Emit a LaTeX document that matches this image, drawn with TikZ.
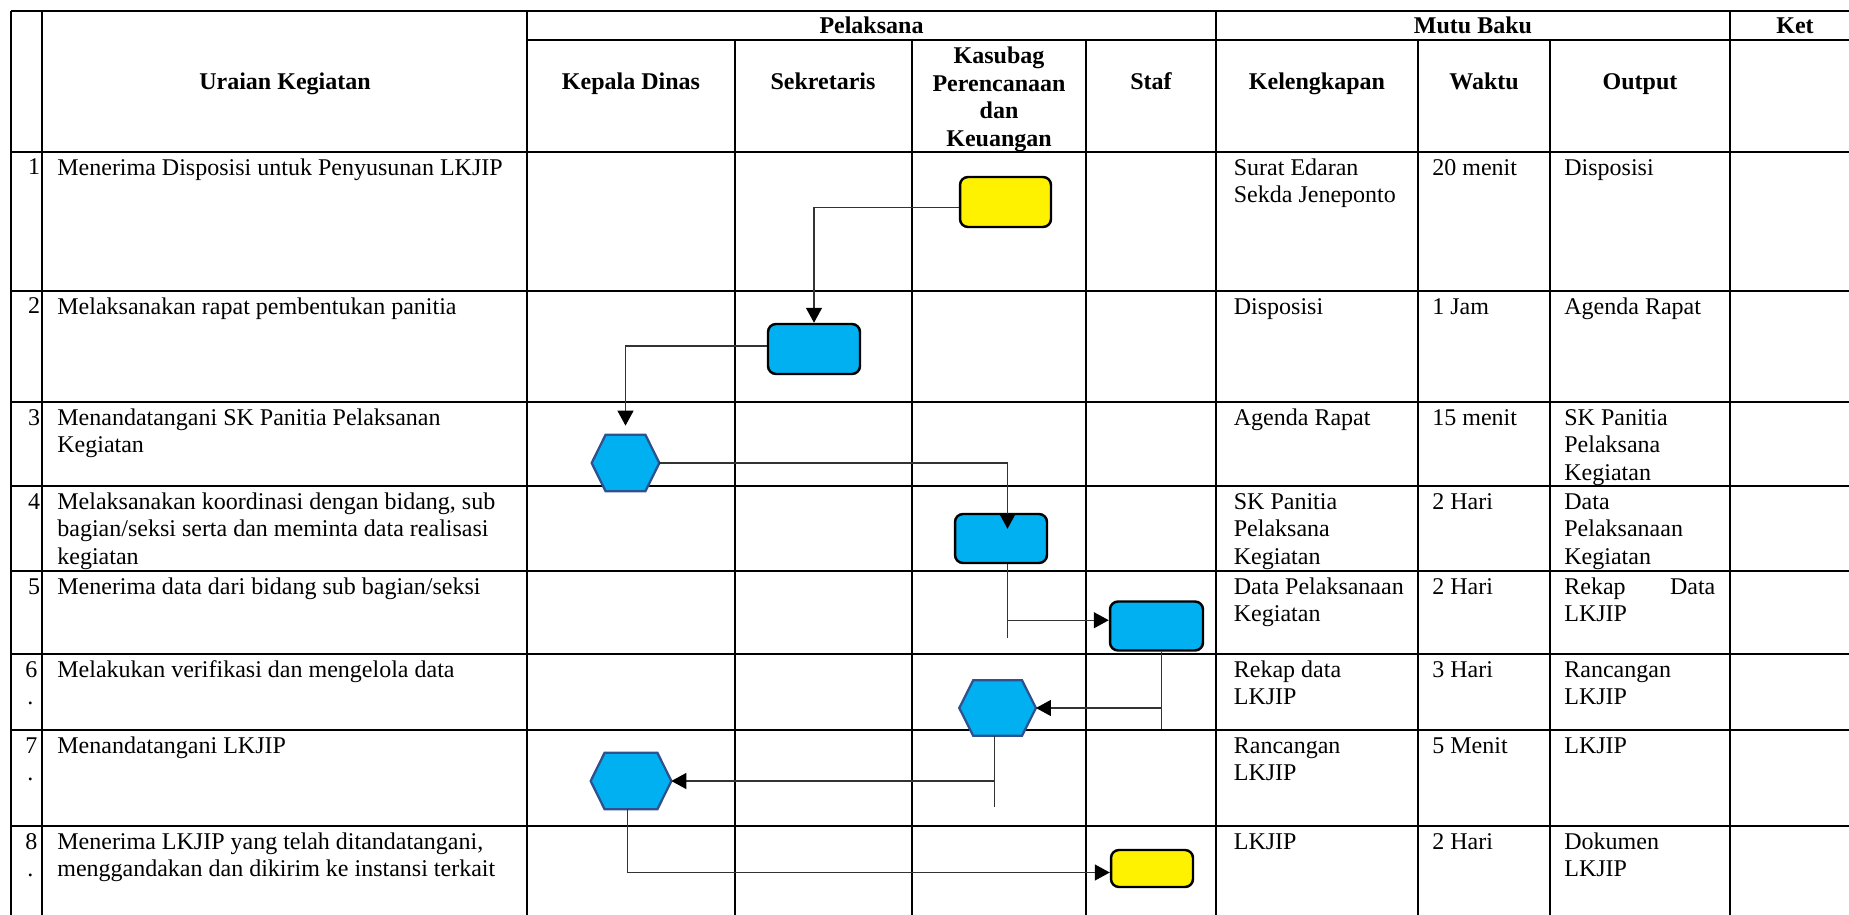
\documentclass[tikz,border=0pt]{standalone}
\usepackage{fontspec}
\setmainfont{Liberation Serif}
\usetikzlibrary{arrows.meta,calc}
\definecolor{boxblue}{HTML}{00B0F0}
\definecolor{hexedge}{HTML}{2F528F}
\definecolor{connc}{HTML}{333333}
\newcommand{\fsz}{\fontsize{13.66pt}{15.7pt}\selectfont}
\newcommand{\stt}{\rule{0pt}{0.75em}}
\newcommand{\hexdraw}[1]{\draw[hexline] (#1.west) -- ($(#1.north west)+(14,0)$) -- ($(#1.north east)+(-14,0)$) -- (#1.east) -- ($(#1.south east)+(-14,0)$) -- ($(#1.south west)+(14,0)$) -- cycle;}
\begin{document}
\begin{tikzpicture}[x=0.02cm,y=-0.02cm,
  grid/.style={line width=1.3pt, black},
  txt/.style={font=\fsz, inner sep=0pt, align=left, anchor=north west},
  hdr/.style={font=\fsz\bfseries, inner sep=0pt, align=center, anchor=base},
  hdrtop/.style={font=\fsz\bfseries, inner sep=0pt, align=center, anchor=north},
  numr/.style={font=\fsz, inner sep=0pt, anchor=base east},
  numl/.style={font=\fsz, inner sep=0pt, anchor=base west},
  flowbox/.style={draw=black, line width=1.4pt, rounded corners=0.16cm, inner sep=0pt},
  hexbox/.style={inner sep=0pt},
  hexline/.style={draw=hexedge, fill=boxblue, line width=1.3pt, line join=miter},
  conn/.style={draw=connc, line width=0.75pt},
  arr/.style={conn, -{Triangle[length=0.3cm,width=0.32cm,color=black]}},
]
\path[use as bounding box] (0,0) rectangle (1849,915);

% ---- table grid ----
\foreach \yy in {11,152,291,402,486,571,654,730,826} \draw[grid] (11,\yy) -- (1849,\yy);
\draw[grid] (527,40) -- (1849,40);
\foreach \xx in {11,42,527,1216,1730} \draw[grid] (\xx,11) -- (\xx,915);
\foreach \xx in {735,912,1086,1418,1550} \draw[grid] (\xx,40) -- (\xx,915);

% ---- headers ----
\node[hdr] (hU) at (285,89.5) {Uraian Kegiatan};
\node[hdr] (hP) at (871.5,33.3) {Pelaksana};
\node[hdr] (hM) at (1473,33.3) {Mutu Baku};
\node[hdr] (hK) at (1795,33.3) {Ket};
\node[hdr] (hKD) at (631,90) {Kepala Dinas};
\node[hdr] (hS) at (823,90) {Sekretaris};
\node[hdrtop] (hKP) at (999,45.3) {\stt Kasubag\\Perencanaan\\dan\\Keuangan};
\node[hdr] (hSt) at (1151,90) {Staf};
\node[hdr] (hKl) at (1317,90) {Kelengkapan};
\node[hdr] (hW) at (1484,90) {Waktu};
\node[hdr] (hO) at (1640,90) {Output};

% ---- row numbers ----
\node[numr] (n1) at (40.5,175) {1};
\node[numr] (n2) at (40.5,314) {2};
\node[numr] (n3) at (40.5,425) {3};
\node[numr] (n4) at (40.5,509) {4};
\node[numr] (n5) at (40.5,594) {5};
\node[numl] (n6) at (25,677) {6};
\node[numl] (n6d) at (27,704.6) {.};
\node[numl] (n7) at (25,753) {7};
\node[numl] (n7d) at (27,780.6) {.};
\node[numl] (n8) at (25,849) {8};
\node[numl] (n8d) at (27,876.6) {.};

% ---- uraian ----
\node[txt] (u1) at (57,157) {\stt Menerima Disposisi untuk Penyusunan LKJIP};
\node[txt] (u2) at (57,296) {\stt Melaksanakan rapat pembentukan panitia};
\node[txt] (u3) at (57,407) {\stt Menandatangani SK Panitia Pelaksanan\\Kegiatan};
\node[txt] (u4) at (57,491) {\stt Melaksanakan koordinasi dengan bidang, sub\\bagian/seksi serta dan meminta data realisasi\\kegiatan};
\node[txt] (u5) at (57,576) {\stt Menerima data dari bidang sub bagian/seksi};
\node[txt] (u6) at (57,659) {\stt Melakukan verifikasi dan mengelola data};
\node[txt] (u7) at (57,735) {\stt Menandatangani LKJIP};
\node[txt] (u8) at (57,831) {\stt Menerima LKJIP yang telah ditandatangani,\\menggandakan dan dikirim ke instansi terkait};

% ---- kelengkapan ----
\node[txt] (k1) at (1233.5,157) {\stt Surat Edaran\\Sekda Jeneponto};
\node[txt] (k2) at (1233.5,296) {\stt Disposisi};
\node[txt] (k3) at (1233.5,407) {\stt Agenda Rapat};
\node[txt] (k4) at (1233.5,491) {\stt SK Panitia\\Pelaksana\\Kegiatan};
\node[txt] (k5) at (1233.5,576) {\stt Data Pelaksanaan\\Kegiatan};
\node[txt] (k6) at (1233.5,659) {\stt Rekap data\\LKJIP};
\node[txt] (k7) at (1233.5,735) {\stt Rancangan\\LKJIP};
\node[txt] (k8) at (1233.5,831) {\stt LKJIP};

% ---- waktu ----
\node[txt] (w1) at (1432,157) {\stt 20 menit};
\node[txt] (w2) at (1432,296) {\stt 1 Jam};
\node[txt] (w3) at (1432,407) {\stt 15 menit};
\node[txt] (w4) at (1432,491) {\stt 2 Hari};
\node[txt] (w5) at (1432,576) {\stt 2 Hari};
\node[txt] (w6) at (1432,659) {\stt 3 Hari};
\node[txt] (w7) at (1432,735) {\stt 5 Menit};
\node[txt] (w8) at (1432,831) {\stt 2 Hari};

% ---- output ----
\node[txt] (o1) at (1564,157) {\stt Disposisi};
\node[txt] (o2) at (1564,296) {\stt Agenda Rapat};
\node[txt] (o3) at (1564,407) {\stt SK Panitia\\Pelaksana\\Kegiatan};
\node[txt] (o4) at (1564,491) {\stt Data\\Pelaksanaan\\Kegiatan};
\node[txt] (o5) at (1564,576) {\stt\makebox[3.02cm][l]{Rekap\hfill Data}\\LKJIP};
\node[txt] (o6) at (1564,659) {\stt Rancangan\\LKJIP};
\node[txt] (o7) at (1564,735) {\stt LKJIP};
\node[txt] (o8) at (1564,831) {\stt Dokumen\\LKJIP};

% ---- flow shapes ----
\node[flowbox, fill=yellow, minimum width=1.82cm, minimum height=1.0cm] (y1) at (1005.5,202) {};
\node[flowbox, fill=boxblue, minimum width=1.84cm, minimum height=1.0cm] (b2) at (814,349) {};
\node[hexbox, minimum width=1.34cm, minimum height=1.12cm] (h3) at (625.5,463) {};
\hexdraw{h3}
\node[flowbox, fill=boxblue, minimum width=1.84cm, minimum height=0.98cm] (b4) at (1001,538.5) {};
\node[flowbox, fill=boxblue, minimum width=1.86cm, minimum height=0.98cm] (b5) at (1156.5,626) {};
\node[hexbox, minimum width=1.52cm, minimum height=1.10cm] (h6) at (997.6,708) {};
\hexdraw{h6}
\node[hexbox, minimum width=1.60cm, minimum height=1.12cm] (h7) at (631,781) {};
\hexdraw{h7}
\node[flowbox, fill=yellow, minimum width=1.64cm, minimum height=0.74cm] (y8) at (1152,868.5) {};

% ---- connectors ----
\draw[arr] ($(y1.west)+(0,5.7)$) -| (b2.north);
\draw[arr, shorten >=0.18cm] ($(b2.west)+(0,-3)$) -| (h3.north);
\coordinate (b4in) at ($(b4.north)+(6.5,16)$);
\draw[arr] (h3.east) -| (b4in);
\coordinate (b4out) at ($(b4.south)+(6.5,0)$);
\coordinate (b4end) at ($(b4.south)+(6.5,74)$);
\coordinate (b4mid) at ($(b4.south)+(6.5,56)$);
\draw[conn] (b4out) -- (b4end);
\draw[arr] (b4mid) -- (b4mid -| b5.west);
\coordinate (b5out) at ($(b5.south)+(5,0)$);
\coordinate (b5end) at ($(b5.south)+(5,77)$);
\draw[conn] (b5out) -- (b5end);
\draw[arr] (b5out |- h6.east) -- (h6.east);
\coordinate (h6out) at ($(h6.south)+(-3,0)$);
\coordinate (h6end) at ($(h6.south)+(-3,71)$);
\draw[conn] (h6out) -- (h6end);
\draw[arr] (h6out |- h7.east) -- (h7.east);
\draw[arr] ($(h7.south)+(-3.4,0)$) |- ($(y8.west)+(0,4)$);
\end{tikzpicture}
\end{document}
